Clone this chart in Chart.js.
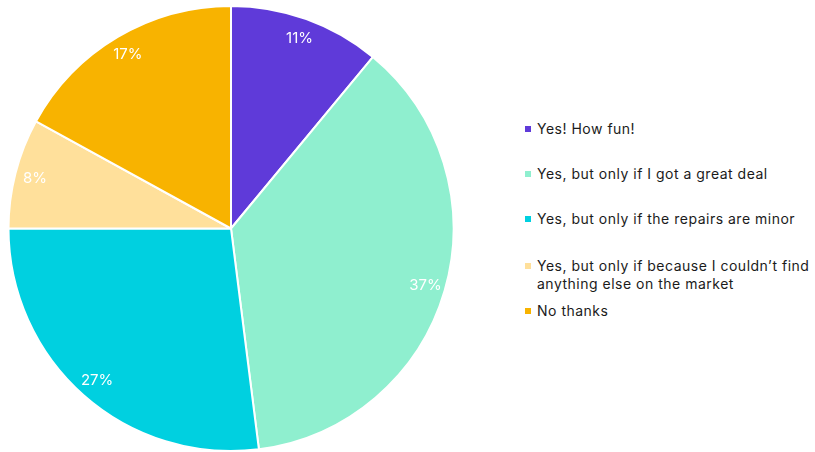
<!DOCTYPE html>
<html>
<head>
<meta charset="utf-8">
<script src="https://cdn.jsdelivr.net/npm/chart.js@4/dist/chart.umd.min.js"></script>
<style>
  html, body { margin: 0; padding: 0; background: #ffffff; }
  #wrap { position: relative; width: 815px; height: 452px; overflow: hidden; }
  #pie { position: absolute; left: 0; top: 0; }
  #legend { position: absolute; left: 525px; top: 120px; width: 290px; font-family: Inter, "Noto Sans", sans-serif; font-size: 14px; letter-spacing: 0.5px; color: #1b1b1b; }
  .row { display: flex; align-items: flex-start; line-height: 18px; margin-bottom: 27px; }
  .row.gap { margin-bottom: 29px; }
  .row.tight { margin-bottom: 9px; }
  .sw { width: 6px; height: 6px; margin-top: 6px; margin-right: 6px; flex: none; }
</style>
</head>
<body>
<div id="wrap">
  <canvas id="pie" width="462" height="457"></canvas>
  <div id="legend"></div>
</div>
<script>
// Survey answers and their shares (percent)
const categories = [
  "Yes! How fun!",
  "Yes, but only if I got a great deal",
  "Yes, but only if the repairs are minor",
  "Yes, but only if because I couldn\u2019t find anything else on the market",
  "No thanks"
];
const shares = [11, 37, 27, 8, 17];
const sliceColors = ["#5f3ad9", "#8fefcf", "#00d0e0", "#ffe09b", "#f8b300"];

// Percent labels placed inside each slice near the rim
const sliceLabels = {
  id: "sliceLabels",
  afterDatasetsDraw(chart) {
    const ctx = chart.ctx;
    const meta = chart.getDatasetMeta(0);
    ctx.save();
    ctx.fillStyle = "#ffffff";
    ctx.font = "15px Inter, 'Noto Sans', sans-serif";
    ctx.textAlign = "center";
    ctx.textBaseline = "middle";
    meta.data.forEach((arc, i) => {
      const mid = (arc.startAngle + arc.endAngle) / 2;
      const r = arc.outerRadius * 0.91;
      ctx.fillText(shares[i] + "%", arc.x + Math.cos(mid) * r, arc.y + Math.sin(mid) * r);
    });
    ctx.restore();
  }
};

new Chart(document.getElementById("pie"), {
  type: "pie",
  data: {
    labels: categories,
    datasets: [{
      data: shares,
      backgroundColor: sliceColors,
      borderColor: "#ffffff",
      borderWidth: 2
    }]
  },
  options: {
    responsive: false,
    animation: false,
    layout: { padding: 5 },
    plugins: {
      legend: { display: false },
      tooltip: { enabled: false }
    }
  },
  plugins: [sliceLabels]
});

// Legend beside the pie
const legend = document.getElementById("legend");
categories.forEach((name, i) => {
  const row = document.createElement("div");
  row.className = "row" + (i === 2 ? " gap" : "") + (i === 3 ? " tight" : "");
  const sw = document.createElement("span");
  sw.className = "sw";
  sw.style.background = sliceColors[i];
  const txt = document.createElement("span");
  txt.textContent = name;
  row.appendChild(sw);
  row.appendChild(txt);
  legend.appendChild(row);
});
</script>
</body>
</html>
